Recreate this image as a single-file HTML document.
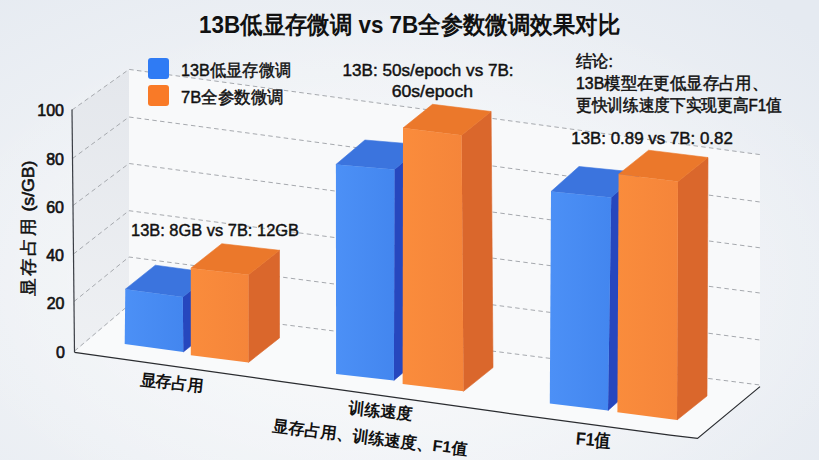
<!DOCTYPE html>
<html><head><meta charset="utf-8">
<style>
html,body{margin:0;padding:0;width:819px;height:460px;overflow:hidden}
body{background:radial-gradient(ellipse 75% 85% at 42% 62%, #f5f7f9 0%, #eef1f5 55%, #e5eaf1 100%);font-family:"Liberation Sans",sans-serif;}
svg{position:absolute;left:0;top:0}
text{font-family:"Liberation Sans",sans-serif;fill:#111}
.m{font-weight:500;stroke:#111;stroke-width:0.45px}
.t{stroke:#111;stroke-width:0.6px}
.bd{font-weight:700}
.m2{font-weight:500;stroke:#111;stroke-width:0.5px}
</style></head><body>
<svg width="819" height="460" viewBox="0 0 819 460">
<defs>
<linearGradient id="gb" x1="0" y1="0" x2="1" y2="0"><stop offset="0" stop-color="#4c90f6"/><stop offset="1" stop-color="#4386ef"/></linearGradient>
<linearGradient id="go" x1="0" y1="0" x2="1" y2="0"><stop offset="0" stop-color="#fa8c3c"/><stop offset="1" stop-color="#f5853a"/></linearGradient>
<radialGradient id="bgl" cx="0.5" cy="0.6" r="0.6"><stop offset="0" stop-color="#ffffff" stop-opacity="0.55"/><stop offset="1" stop-color="#ffffff" stop-opacity="0"/></radialGradient>
<linearGradient id="lw" x1="0" y1="0" x2="0" y2="1"><stop offset="0" stop-color="#e4e7ec"/><stop offset="1" stop-color="#eef0f3"/></linearGradient>
</defs>
<rect x="0" y="0" width="819" height="460" fill="url(#bgl)"/>
<polygon points="72.0,110.0 129.0,69.4 129.0,305.0 74.5,352.0" fill="url(#lw)"/>
<polygon points="129.0,69.4 760.0,154.6 760.0,385.0 129.0,305.0" fill="#f8f9fa"/>
<polygon points="74.5,352.3 129.0,305.0 760.0,385.0 760.0,386.6 697.5,438.4 670.0,435.2 500.0,412.2 280.0,381.3" fill="#f9fafb"/>
<polyline points="72.0,110.0 129.0,69.4 760.0,154.6" fill="none" stroke="#a6a9ae" stroke-width="1" stroke-dasharray="4.5,3.3"/><polyline points="72.5,158.5 129.0,117.0 760.0,202.0" fill="none" stroke="#a6a9ae" stroke-width="1" stroke-dasharray="4.5,3.3"/><polyline points="73.0,205.5 129.0,163.5 760.0,247.8" fill="none" stroke="#a6a9ae" stroke-width="1" stroke-dasharray="4.5,3.3"/><polyline points="73.5,254.0 129.0,210.7 760.0,293.0" fill="none" stroke="#a6a9ae" stroke-width="1" stroke-dasharray="4.5,3.3"/><polyline points="74.0,301.5 129.0,257.0 760.0,340.0" fill="none" stroke="#a6a9ae" stroke-width="1" stroke-dasharray="4.5,3.3"/><polyline points="74.5,351.0 129.0,305.0 760.0,385.0" fill="none" stroke="#a6a9ae" stroke-width="1" stroke-dasharray="4.5,3.3"/>
<line x1="72" y1="109.6" x2="74.5" y2="352.2" stroke="#3a3d44" stroke-width="1.2"/>
<polyline points="74.5,352.3 280.0,381.3 500.0,412.2 670.0,435.2 697.5,438.4 760.0,386.6" fill="none" stroke="#2a2c30" stroke-width="1.2"/>
<polygon points="182.8,297.0 212.8,273.0 213.3,328.0 183.3,352.0" fill="#2647be" stroke="#2647be" stroke-width="0.6" stroke-linejoin="round"/><polygon points="125.3,289.2 155.3,265.2 212.8,273.0 182.8,297.0" fill="#3b74de" stroke="#3b74de" stroke-width="0.6" stroke-linejoin="round"/><polygon points="125.3,289.2 182.8,297.0 183.3,352.0 124.7,344.0" fill="url(#gb)"/><polygon points="248.5,274.8 279.5,250.3 279.5,337.9 248.5,362.4" fill="#da672c" stroke="#da672c" stroke-width="0.6" stroke-linejoin="round"/><polygon points="190.8,268.2 221.8,243.7 279.5,250.3 248.5,274.8" fill="#eb782b" stroke="#eb782b" stroke-width="0.6" stroke-linejoin="round"/><polygon points="190.8,268.2 248.5,274.8 248.5,362.4 190.8,355.3" fill="url(#go)"/><polygon points="394.5,169.4 423.5,144.9 422.9,355.9 393.9,380.4" fill="#2647be" stroke="#2647be" stroke-width="0.6" stroke-linejoin="round"/><polygon points="335.9,164.5 364.9,140.0 423.5,144.9 394.5,169.4" fill="#3b74de" stroke="#3b74de" stroke-width="0.6" stroke-linejoin="round"/><polygon points="335.9,164.5 394.5,169.4 393.9,380.4 336.1,373.9" fill="url(#gb)"/><polygon points="461.6,135.2 491.1,111.5 493.0,367.6 463.5,391.3" fill="#da672c" stroke="#da672c" stroke-width="0.6" stroke-linejoin="round"/><polygon points="403.0,128.0 432.5,104.3 491.1,111.5 461.6,135.2" fill="#eb782b" stroke="#eb782b" stroke-width="0.6" stroke-linejoin="round"/><polygon points="403.0,128.0 461.6,135.2 463.5,391.3 402.6,383.9" fill="url(#go)"/><polygon points="611.2,197.5 639.2,172.5 636.0,385.5 608.0,410.5" fill="#2647be" stroke="#2647be" stroke-width="0.6" stroke-linejoin="round"/><polygon points="551.0,191.5 579.0,166.5 639.2,172.5 611.2,197.5" fill="#3b74de" stroke="#3b74de" stroke-width="0.6" stroke-linejoin="round"/><polygon points="551.0,191.5 611.2,197.5 608.0,410.5 549.8,403.5" fill="url(#gb)"/><polygon points="678.0,181.5 708.0,157.5 707.0,396.0 677.0,420.0" fill="#da672c" stroke="#da672c" stroke-width="0.6" stroke-linejoin="round"/><polygon points="618.6,174.2 648.6,150.2 708.0,157.5 678.0,181.5" fill="#eb782b" stroke="#eb782b" stroke-width="0.6" stroke-linejoin="round"/><polygon points="618.6,174.2 678.0,181.5 677.0,420.0 617.4,412.2" fill="url(#go)"/>
<text x="199" y="33" font-size="24" font-weight="bold" textLength="421" lengthAdjust="spacingAndGlyphs">13B低显存微调 vs 7B全参数微调效果对比</text>
<rect x="148" y="58" width="21" height="21" rx="3" fill="#2f7bf4"/>
<rect x="148" y="85" width="21" height="21" rx="3" fill="#f97a27"/>
<text class="m" x="181" y="76" font-size="17" textLength="110" lengthAdjust="spacingAndGlyphs">13B低显存微调</text>
<text class="m" x="181" y="103" font-size="17" textLength="103" lengthAdjust="spacingAndGlyphs">7B全参数微调</text>
<g font-size="16" text-anchor="end" class="t">
<text x="64" y="116.4">100</text>
<text x="64" y="165.4">80</text>
<text x="64" y="213">60</text>
<text x="64" y="261">40</text>
<text x="64.5" y="309">20</text>
<text x="65" y="357.5">0</text>
</g>
<text transform="translate(33.5,295.5) rotate(-90)" font-size="17" textLength="135" lengthAdjust="spacingAndGlyphs"><tspan class="m2" letter-spacing="2">显存占用</tspan><tspan class="t"> (s/GB)</tspan></text>
<text class="m" x="131" y="236.3" font-size="17" textLength="168" lengthAdjust="spacingAndGlyphs">13B: 8GB vs 7B: 12GB</text>
<text class="m" x="342.6" y="75.5" font-size="17" textLength="171" lengthAdjust="spacingAndGlyphs">13B: 50s/epoch vs 7B:</text>
<text class="m" x="391.7" y="96.5" font-size="17" textLength="81.3" lengthAdjust="spacingAndGlyphs">60s/epoch</text>
<text class="m" x="571.3" y="144" font-size="17" textLength="161.5" lengthAdjust="spacingAndGlyphs">13B: 0.89 vs 7B: 0.82</text>
<text class="m2" x="576" y="66.5" font-size="16.5" textLength="37" lengthAdjust="spacingAndGlyphs">结论:</text>
<text class="m2" x="576" y="88.5" font-size="16.5" textLength="192" lengthAdjust="spacingAndGlyphs">13B模型在更低显存占用、</text>
<text class="m2" x="576" y="111" font-size="16.5" textLength="206" lengthAdjust="spacingAndGlyphs">更快训练速度下实现更高F1值</text>
<g class="bd" font-size="16">
<text transform="translate(139.5,384.5) rotate(6)">显存占用</text>
<text transform="translate(348,413) rotate(6)">训练速度</text>
<text transform="translate(272,431) rotate(7)" textLength="196" lengthAdjust="spacingAndGlyphs">显存占用、训练速度、F1值</text>
<text transform="translate(575.5,444.5) rotate(4.5)" font-size="18" textLength="35" lengthAdjust="spacingAndGlyphs">F1值</text>
</g>
</svg>
</body></html>
